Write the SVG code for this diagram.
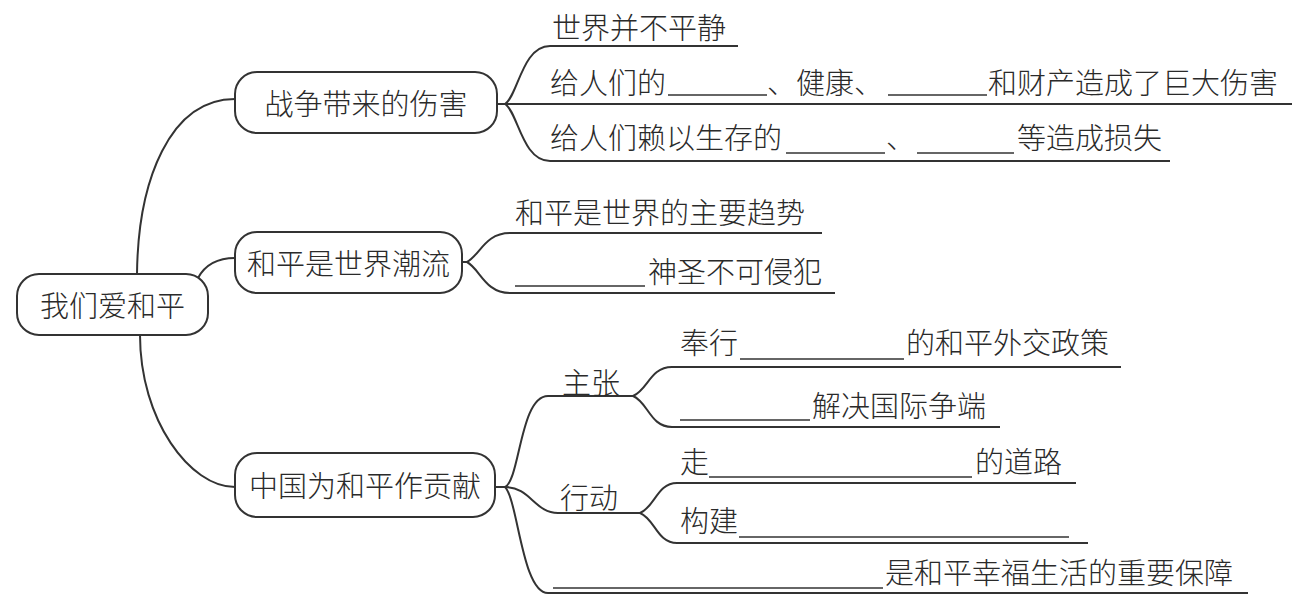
<svg xmlns="http://www.w3.org/2000/svg" width="1316" height="601" viewBox="0 0 1316 601">
<style>
.bg{fill:#ffffff}
.box{fill:#ffffff;stroke:#333333;stroke-width:2}
.ln{fill:none;stroke:#333333;stroke-width:2}
.bl{fill:none;stroke:#333333;stroke-width:1.6}
text{font-family:"Noto Sans CJK SC","Noto Sans",sans-serif;font-size:29px;font-weight:300;fill:#2a2a2a;dominant-baseline:central}
.c{text-anchor:middle}
</style>
<rect class="bg" x="0" y="0" width="1316" height="601"/>
<g id="connectors">
<path class="ln" d="M137,274 C138,180 170,99 235,99"/>
<path class="ln" d="M198,278 C205,265 218,258 235,258"/>
<path class="ln" d="M140,335 C140,420 190,487 235,487"/>
<path class="ln" d="M497,104 H505"/>
<path class="ln" d="M505,104 C518,96 522,46 550,46 H738"/>
<path class="ln" d="M505,104 H1292"/>
<path class="ln" d="M505,104 C518,112 522,161 550,161 H1170"/>
<path class="ln" d="M462,262 H467"/>
<path class="ln" d="M467,262 C480,255 485,233 510,233 H822"/>
<path class="ln" d="M467,262 C480,269 485,293 510,293 H835"/>
<path class="ln" d="M495,487 H505"/>
<path class="ln" d="M505,487 C520,480 520,396 548,396 H633"/>
<path class="ln" d="M505,487 C530,487 535,513 558,513 H640"/>
<path class="ln" d="M505,487 C518,500 522,593 548,593 H1248"/>
<path class="ln" d="M633,396 C648,390 650,367 672,367 H1121"/>
<path class="ln" d="M633,396 C648,402 650,427 672,427 H1000"/>
<path class="ln" d="M640,513 C655,507 657,483 677,483 H1076"/>
<path class="ln" d="M640,513 C655,519 657,543 677,543 H1088"/>
</g>
<g id="root">
<rect class="box" x="17" y="274" width="191" height="61" rx="22"/>
<text class="c" x="112.5" y="303.5">我们爱和平</text>
</g>
<g id="war">
<rect class="box" x="235" y="72" width="262" height="61" rx="22"/>
<text class="c" x="366" y="101.5">战争带来的伤害</text>
</g>
<g id="war-items">
<text x="552" y="26">世界并不平静</text>
<text x="550" y="81">给人们的</text>
<path class="bl" d="M668,95 H767"/>
<text x="767" y="81">、健康、</text>
<path class="bl" d="M888,95 H987"/>
<text x="988" y="81">和财产造成了巨大伤害</text>
<text x="550" y="136">给人们赖以生存的</text>
<path class="bl" d="M786,153 H885"/>
<text x="886" y="136">、</text>
<path class="bl" d="M917,153 H1014"/>
<text x="1017" y="136">等造成损失</text>
</g>
<g id="peace">
<rect class="box" x="235" y="232" width="227" height="61" rx="22"/>
<text class="c" x="348.5" y="261.5">和平是世界潮流</text>
</g>
<g id="peace-items">
<text x="515" y="211">和平是世界的主要趋势</text>
<path class="bl" d="M515,286 H645"/>
<text x="648" y="270">神圣不可侵犯</text>
</g>
<g id="china">
<rect class="box" x="235" y="453" width="260" height="64" rx="22"/>
<text class="c" x="365" y="484">中国为和平作贡献</text>
</g>
<g id="zhuzhang">
<text x="562" y="381">主张</text>
<text x="680" y="341">奉行</text>
<path class="bl" d="M740,359 H904"/>
<text x="906" y="341">的和平外交政策</text>
<path class="bl" d="M680,420 H810"/>
<text x="812" y="404">解决国际争端</text>
</g>
<g id="xingdong">
<text x="560" y="496">行动</text>
<text x="680" y="460">走</text>
<path class="bl" d="M709,477 H972"/>
<text x="975" y="460">的道路</text>
<text x="680" y="519">构建</text>
<path class="bl" d="M739,537 H1069"/>
</g>
<g id="guarantee">
<path class="bl" d="M553,588 H883"/>
<text x="885" y="571">是和平幸福生活的重要保障</text>
</g>
</svg>
